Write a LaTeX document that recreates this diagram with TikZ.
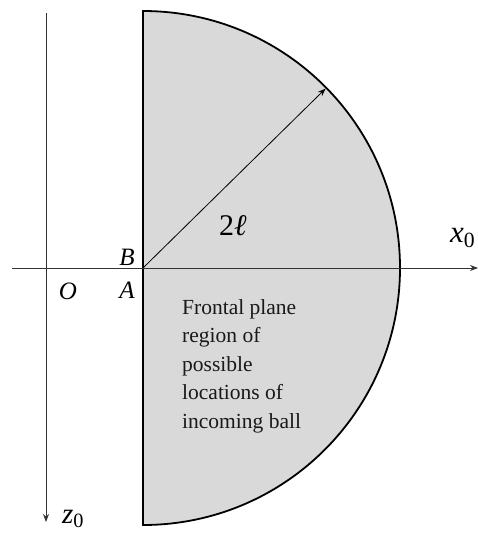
\documentclass[tikz,border=0pt]{standalone}
\usepackage{fontspec}
\setmainfont{Liberation Serif}
\usetikzlibrary{arrows.meta,calc}
\definecolor{regiongray}{HTML}{D9D9D9}
\begin{document}
\begin{tikzpicture}[x=1pt,y=-1pt,
    axis/.style={draw=black!80, line width=0.9pt, -{Stealth[length=8pt,width=6pt]}},
    lbl/.style={font=\fontsize{25}{30}\selectfont\itshape, inner sep=0pt}]
    \useasboundingbox (0,0) rectangle (478,533);

    % Frontal region
    \coordinate (c) at (143,268);
    \filldraw[fill=regiongray, line width=1.8pt] (143,11) arc (-90:90:257) -- cycle;
    \coordinate (rim) at ($(c)+(-44.5:256)$);

    % Axes
    \coordinate (xs) at (12,268);
    \coordinate (xe) at (478,268);
    \coordinate (zs) at (46,13);
    \coordinate (ze) at (46,522);
    \draw[axis] (xs) -- (xe);
    \draw[axis] (zs) -- (ze);

    % Radius
    \draw[line width=0.8pt, -{Stealth[length=8pt,width=6pt]}] (c) -- (rim);

    % Labels
    \node[lbl] (B) at (127,257) {B};
    \node[lbl] (A) at (127,290) {A};
    \node[lbl] (O) at (68,291) {O};
    \node[inner sep=0pt, anchor=base west, font=\fontsize{30}{36}\selectfont] (rad) at (219,235) {2\textit{ℓ}};
    \node[inner sep=0pt, anchor=base west, font=\fontsize{31}{36}\selectfont] (x0) at (450,242) {\textit{x}\textsubscript{0}};
    \node[inner sep=0pt, anchor=base west, font=\fontsize{29}{36}\selectfont] (z0) at (62,523) {\textit{z}\textsubscript{0}};
    \node[inner sep=0pt, anchor=north west, align=left, text=black!90,
          font=\fontsize{21.5}{28.5}\selectfont] (txt) at (182,299)
          {Frontal plane\\region of\\possible\\locations of\\incoming ball};
\end{tikzpicture}
\end{document}
